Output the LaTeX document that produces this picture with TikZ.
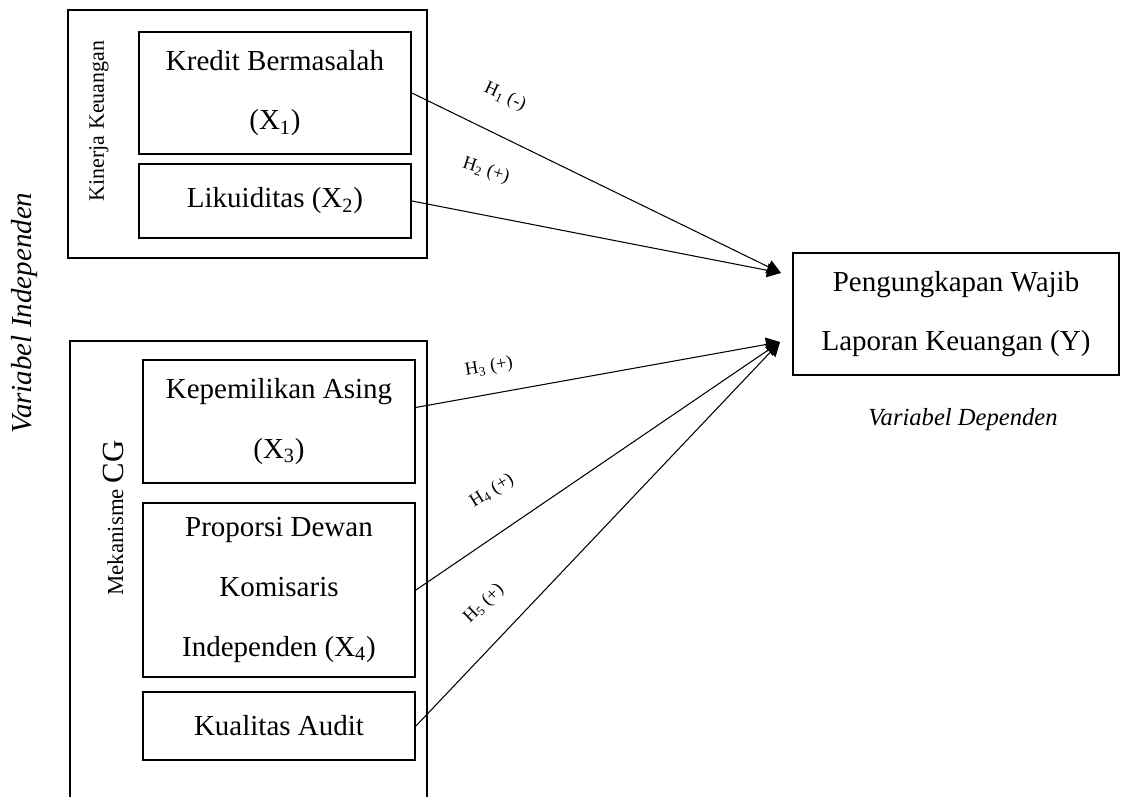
\documentclass[tikz,border=0pt]{standalone}
\usepackage{fontspec}
\setmainfont{Liberation Serif}
\usetikzlibrary{arrows.meta}

\begin{document}
\begin{tikzpicture}[x=0.02cm, y=-0.02cm,
        box/.style = {draw=black, line width=1.1pt, align=center, inner sep=0pt, minimum width=5.44cm, font=\fontsize{16.5}{34}\selectfont},
        outer/.style = {draw=black, line width=1.1pt},
        hyp/.style = {inner sep=0pt, font=\fontsize{10.5}{12}\selectfont},
        side/.style = {inner sep=0pt, rotate=90},
        arr/.style = {-{Triangle[length=8pt,width=8pt]}, draw=black, line width=0.6pt}]
    \useasboundingbox (0,0) rectangle (1122,797);

    \draw[outer] (68,10) rectangle (427,258);
    \draw[outer] (70,797) |- (427,341) -- (427,797);

    \node[box, minimum height=2.44cm] (kredit) at (275,93) {Kredit Bermasalah\\(X\textsubscript{1})};
    \node[box, minimum height=1.48cm] (likuid) at (275,201) {Likuiditas (X\textsubscript{2})};
    \node[box, minimum height=2.46cm] (asing) at (279,421.5) {Kepemilikan Asing\\(X\textsubscript{3})};
    \node[box, minimum height=3.48cm] (proporsi) at (279,590) {Proporsi Dewan\\Komisaris\\Independen (X\textsubscript{4})};
    \node[box, minimum height=1.36cm] (audit) at (279,726) {Kualitas Audit};
    \node[box, minimum width=6.52cm, minimum height=2.44cm] (wajib) at (956,314) {Pengungkapan Wajib\\Laporan Keuangan (Y)};

    \node[side, font=\fontsize{12.5}{14}\selectfont] (kinerja) at (99,121) {Kinerja Keuangan};
    \node[side] (mekanisme) at (113,518) {\fontsize{13}{15}\selectfont Mekanisme \fontsize{17.5}{19}\selectfont CG};
    \node[side, font=\fontsize{16.5}{18}\selectfont\itshape] (indep) at (25,313) {Variabel Independen};
    \node[inner sep=0pt, font=\fontsize{14}{16}\selectfont\itshape] (dep) at (963,420) {Variabel Dependen};

    \coordinate (tipA) at (781,273);
    \coordinate (tipB) at (780,342);
    \draw[arr] (kredit.east) -- (tipA);
    \draw[arr] (likuid.east) -- (tipA);
    \draw[arr] ([yshift=8pt]asing.east) -- (tipB);
    \draw[arr] (proporsi.east) -- (tipB);
    \draw[arr] (audit.east) -- (tipB);

    \node[hyp, rotate=-25] (h1) at (505,97) {H\textsubscript{1} (-)};
    \node[hyp, rotate=-18] (h2) at (486,171) {H\textsubscript{2} (+)};
    \node[hyp, rotate=10] (h3) at (489,367) {H\textsubscript{3} (+)};
    \node[hyp, rotate=32] (h4) at (492,491) {H\textsubscript{4} (+)};
    \node[hyp, rotate=44] (h5) at (484,604) {H\textsubscript{5} (+)};
\end{tikzpicture}
\end{document}
